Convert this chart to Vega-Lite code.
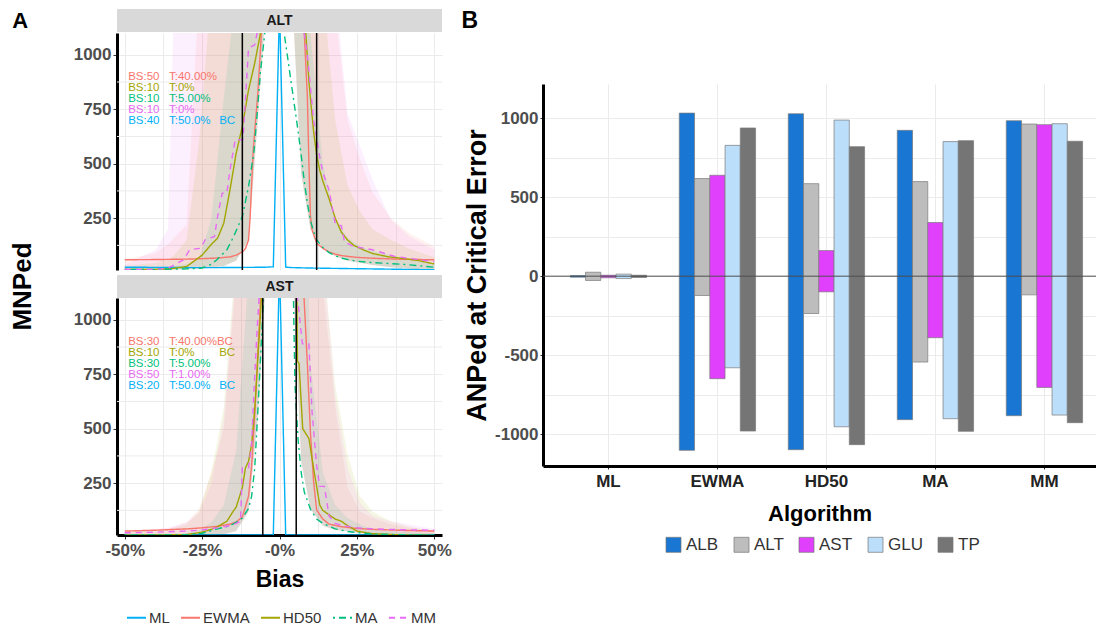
{
"$schema": "https://vega.github.io/schema/vega-lite/v6.json",
"background": "white",
"padding": {"left": 10, "top": 9, "right": 0, "bottom": 0},
"config": {
 "font": "Liberation Sans",
 "view": {"stroke": null},
 "axis": {"labelFont": "Liberation Sans", "titleFont": "Liberation Sans", "labelFontWeight": "bold", "labelColor": "#4D4D4D", "labelFontSize": 17, "titleFontWeight": "bold", "titleColor": "black", "gridColor": "#EBEBEB", "gridWidth": 1, "tickColor": "#333333", "tickSize": 4, "domainColor": "black", "domainWidth": 3, "labelPadding": 2, "labelOverlap": false},
 "legend": {"labelFont": "Liberation Sans", "labelFontWeight": "normal", "labelColor": "#333333"},
 "title": {"font": "Liberation Sans", "color": "black"},
 "text": {"font": "Liberation Sans"}
},
"datasets": {
 "strips": [{"p": "ALT"}, {"p": "AST"}, {"p": "B"}],
 "ygrid": [{"g": 125}, {"g": 375}, {"g": 625}, {"g": 875}],
 "cuts": [{"p": "ALT", "c": -12}, {"p": "ALT", "c": 12}, {"p": "AST", "c": -5.4}, {"p": "AST", "c": 5.4}],
 "ann": [
  {"p": "ALT", "a": "EWMA", "bs": "BS:50", "t": "T:40.00%", "bc": ""},
  {"p": "ALT", "a": "HD50", "bs": "BS:10", "t": "T:0%", "bc": ""},
  {"p": "ALT", "a": "MA", "bs": "BS:10", "t": "T:5.00%", "bc": ""},
  {"p": "ALT", "a": "MM", "bs": "BS:10", "t": "T:0%", "bc": ""},
  {"p": "ALT", "a": "ML", "bs": "BS:40", "t": "T:50.0%", "bc": "BC"},
  {"p": "AST", "a": "EWMA", "bs": "BS:30", "t": "T:40.00%BC", "bc": ""},
  {"p": "AST", "a": "HD50", "bs": "BS:10", "t": "T:0%", "bc": "BC"},
  {"p": "AST", "a": "MA", "bs": "BS:30", "t": "T:5.00%", "bc": ""},
  {"p": "AST", "a": "MM", "bs": "BS:50", "t": "T:1.00%", "bc": ""},
  {"p": "AST", "a": "ML", "bs": "BS:20", "t": "T:50.0%", "bc": "BC"}
 ],
 "bars": [
  {"alg": "ML", "an": "ALB", "lo": -6, "hi": 4}, {"alg": "ML", "an": "ALT", "lo": -27, "hi": 25}, {"alg": "ML", "an": "AST", "lo": -10, "hi": 6}, {"alg": "ML", "an": "GLU", "lo": -15, "hi": 13}, {"alg": "ML", "an": "TP", "lo": -8, "hi": 6},
  {"alg": "EWMA", "an": "ALB", "lo": -1101, "hi": 1031}, {"alg": "EWMA", "an": "ALT", "lo": -122, "hi": 617}, {"alg": "EWMA", "an": "AST", "lo": -648, "hi": 638}, {"alg": "EWMA", "an": "GLU", "lo": -579, "hi": 827}, {"alg": "EWMA", "an": "TP", "lo": -979, "hi": 937},
  {"alg": "HD50", "an": "ALB", "lo": -1097, "hi": 1027}, {"alg": "HD50", "an": "ALT", "lo": -236, "hi": 585}, {"alg": "HD50", "an": "AST", "lo": -99, "hi": 162}, {"alg": "HD50", "an": "GLU", "lo": -952, "hi": 987}, {"alg": "HD50", "an": "TP", "lo": -1065, "hi": 819},
  {"alg": "MA", "an": "ALB", "lo": -907, "hi": 922}, {"alg": "MA", "an": "ALT", "lo": -543, "hi": 598}, {"alg": "MA", "an": "AST", "lo": -389, "hi": 339}, {"alg": "MA", "an": "GLU", "lo": -901, "hi": 851}, {"alg": "MA", "an": "TP", "lo": -981, "hi": 857},
  {"alg": "MM", "an": "ALB", "lo": -882, "hi": 983}, {"alg": "MM", "an": "ALT", "lo": -118, "hi": 962}, {"alg": "MM", "an": "AST", "lo": -703, "hi": 958}, {"alg": "MM", "an": "GLU", "lo": -878, "hi": 964}, {"alg": "MM", "an": "TP", "lo": -926, "hi": 853}
 ],
 "lines": [
  {"p":"ALT","a":"ML","b":-50,"v":25},{"p":"ALT","a":"ML","b":-40,"v":24},{"p":"ALT","a":"ML","b":-30,"v":23},{"p":"ALT","a":"ML","b":-20,"v":23},{"p":"ALT","a":"ML","b":-10,"v":24},{"p":"ALT","a":"ML","b":-4,"v":25},{"p":"ALT","a":"ML","b":-2,"v":27},{"p":"ALT","a":"ML","b":0,"v":1220},{"p":"ALT","a":"ML","b":2,"v":25},{"p":"ALT","a":"ML","b":4,"v":23},{"p":"ALT","a":"ML","b":10,"v":21},{"p":"ALT","a":"ML","b":20,"v":19},{"p":"ALT","a":"ML","b":30,"v":17},{"p":"ALT","a":"ML","b":40,"v":15},{"p":"ALT","a":"ML","b":50,"v":13},
  {"p":"ALT","a":"EWMA","b":-50,"v":59},{"p":"ALT","a":"EWMA","b":-40,"v":60},{"p":"ALT","a":"EWMA","b":-30,"v":62},{"p":"ALT","a":"EWMA","b":-25,"v":64},{"p":"ALT","a":"EWMA","b":-20,"v":67},{"p":"ALT","a":"EWMA","b":-16,"v":72},{"p":"ALT","a":"EWMA","b":-14,"v":80},{"p":"ALT","a":"EWMA","b":-12,"v":95},{"p":"ALT","a":"EWMA","b":-11,"v":110},{"p":"ALT","a":"EWMA","b":-10,"v":150},{"p":"ALT","a":"EWMA","b":-9.5,"v":250},{"p":"ALT","a":"EWMA","b":-8.5,"v":560},{"p":"ALT","a":"EWMA","b":-7,"v":825},{"p":"ALT","a":"EWMA","b":-6,"v":1060},{"p":"ALT","a":"EWMA","b":-4,"v":2000},{"p":"ALT","a":"EWMA","b":4,"v":2000},{"p":"ALT","a":"EWMA","b":7.5,"v":1300},{"p":"ALT","a":"EWMA","b":8,"v":1100},{"p":"ALT","a":"EWMA","b":9,"v":809},{"p":"ALT","a":"EWMA","b":9.5,"v":503},{"p":"ALT","a":"EWMA","b":10,"v":258},{"p":"ALT","a":"EWMA","b":10.5,"v":197},{"p":"ALT","a":"EWMA","b":12,"v":135},{"p":"ALT","a":"EWMA","b":14,"v":112},{"p":"ALT","a":"EWMA","b":16,"v":95},{"p":"ALT","a":"EWMA","b":18,"v":85},{"p":"ALT","a":"EWMA","b":20,"v":78},{"p":"ALT","a":"EWMA","b":25,"v":70},{"p":"ALT","a":"EWMA","b":30,"v":66},{"p":"ALT","a":"EWMA","b":40,"v":61},{"p":"ALT","a":"EWMA","b":50,"v":59},
  {"p":"ALT","a":"HD50","b":-50,"v":15},{"p":"ALT","a":"HD50","b":-40,"v":15},{"p":"ALT","a":"HD50","b":-35,"v":18},{"p":"ALT","a":"HD50","b":-30,"v":28},{"p":"ALT","a":"HD50","b":-25,"v":80},{"p":"ALT","a":"HD50","b":-22,"v":130},{"p":"ALT","a":"HD50","b":-20,"v":158},{"p":"ALT","a":"HD50","b":-18,"v":227},{"p":"ALT","a":"HD50","b":-16,"v":380},{"p":"ALT","a":"HD50","b":-14,"v":548},{"p":"ALT","a":"HD50","b":-12,"v":671},{"p":"ALT","a":"HD50","b":-10,"v":839},{"p":"ALT","a":"HD50","b":-8,"v":962},{"p":"ALT","a":"HD50","b":-6,"v":1110},{"p":"ALT","a":"HD50","b":-4,"v":2000},{"p":"ALT","a":"HD50","b":6,"v":2000},{"p":"ALT","a":"HD50","b":8.5,"v":1100},{"p":"ALT","a":"HD50","b":9.5,"v":880},{"p":"ALT","a":"HD50","b":10,"v":800},{"p":"ALT","a":"HD50","b":11,"v":650},{"p":"ALT","a":"HD50","b":12,"v":540},{"p":"ALT","a":"HD50","b":13,"v":470},{"p":"ALT","a":"HD50","b":14,"v":420},{"p":"ALT","a":"HD50","b":16,"v":340},{"p":"ALT","a":"HD50","b":18,"v":250},{"p":"ALT","a":"HD50","b":20,"v":185},{"p":"ALT","a":"HD50","b":22,"v":150},{"p":"ALT","a":"HD50","b":24,"v":125},{"p":"ALT","a":"HD50","b":27,"v":105},{"p":"ALT","a":"HD50","b":30,"v":88},{"p":"ALT","a":"HD50","b":35,"v":73},{"p":"ALT","a":"HD50","b":40,"v":65},{"p":"ALT","a":"HD50","b":45,"v":55},{"p":"ALT","a":"HD50","b":50,"v":40},
  {"p":"ALT","a":"MA","b":-50,"v":15},{"p":"ALT","a":"MA","b":-40,"v":15},{"p":"ALT","a":"MA","b":-30,"v":17},{"p":"ALT","a":"MA","b":-25.4,"v":20},{"p":"ALT","a":"MA","b":-22.4,"v":36},{"p":"ALT","a":"MA","b":-20.2,"v":59},{"p":"ALT","a":"MA","b":-17,"v":105},{"p":"ALT","a":"MA","b":-14.8,"v":166},{"p":"ALT","a":"MA","b":-12,"v":258},{"p":"ALT","a":"MA","b":-10,"v":395},{"p":"ALT","a":"MA","b":-8.3,"v":549},{"p":"ALT","a":"MA","b":-7.2,"v":732},{"p":"ALT","a":"MA","b":-6.2,"v":916},{"p":"ALT","a":"MA","b":-5.1,"v":1054},{"p":"ALT","a":"MA","b":-4,"v":1200},{"p":"ALT","a":"MA","b":0,"v":3000},{"p":"ALT","a":"MA","b":1.5,"v":1100},{"p":"ALT","a":"MA","b":3,"v":950},{"p":"ALT","a":"MA","b":4.5,"v":800},{"p":"ALT","a":"MA","b":6,"v":650},{"p":"ALT","a":"MA","b":7,"v":540},{"p":"ALT","a":"MA","b":8,"v":420},{"p":"ALT","a":"MA","b":9,"v":320},{"p":"ALT","a":"MA","b":10,"v":240},{"p":"ALT","a":"MA","b":11,"v":190},{"p":"ALT","a":"MA","b":12,"v":150},{"p":"ALT","a":"MA","b":14,"v":115},{"p":"ALT","a":"MA","b":16,"v":92},{"p":"ALT","a":"MA","b":18,"v":78},{"p":"ALT","a":"MA","b":20,"v":66},{"p":"ALT","a":"MA","b":25,"v":52},{"p":"ALT","a":"MA","b":30,"v":46},{"p":"ALT","a":"MA","b":40,"v":38},{"p":"ALT","a":"MA","b":50,"v":25},
  {"p":"ALT","a":"MM","b":-50,"v":15},{"p":"ALT","a":"MM","b":-40,"v":15},{"p":"ALT","a":"MM","b":-36,"v":20},{"p":"ALT","a":"MM","b":-31,"v":59},{"p":"ALT","a":"MM","b":-29,"v":105},{"p":"ALT","a":"MM","b":-25.5,"v":112},{"p":"ALT","a":"MM","b":-24,"v":151},{"p":"ALT","a":"MM","b":-21,"v":166},{"p":"ALT","a":"MM","b":-20,"v":258},{"p":"ALT","a":"MM","b":-18.5,"v":365},{"p":"ALT","a":"MM","b":-17,"v":365},{"p":"ALT","a":"MM","b":-16,"v":472},{"p":"ALT","a":"MM","b":-14.3,"v":610},{"p":"ALT","a":"MM","b":-11.8,"v":610},{"p":"ALT","a":"MM","b":-10,"v":1030},{"p":"ALT","a":"MM","b":-8,"v":1046},{"p":"ALT","a":"MM","b":-6.5,"v":1150},{"p":"ALT","a":"MM","b":-4,"v":2000},{"p":"ALT","a":"MM","b":6,"v":2000},{"p":"ALT","a":"MM","b":8,"v":1100},{"p":"ALT","a":"MM","b":9,"v":1000},{"p":"ALT","a":"MM","b":10,"v":850},{"p":"ALT","a":"MM","b":11,"v":700},{"p":"ALT","a":"MM","b":12,"v":620},{"p":"ALT","a":"MM","b":13,"v":530},{"p":"ALT","a":"MM","b":14,"v":460},{"p":"ALT","a":"MM","b":16,"v":380},{"p":"ALT","a":"MM","b":18,"v":225},{"p":"ALT","a":"MM","b":20,"v":215},{"p":"ALT","a":"MM","b":21,"v":140},{"p":"ALT","a":"MM","b":24,"v":120},{"p":"ALT","a":"MM","b":30,"v":105},{"p":"ALT","a":"MM","b":37,"v":75},{"p":"ALT","a":"MM","b":50,"v":50},
  {"p":"AST","a":"ML","b":-50,"v":14},{"p":"AST","a":"ML","b":-40,"v":13},{"p":"AST","a":"ML","b":-30,"v":13},{"p":"AST","a":"ML","b":-20,"v":12},{"p":"AST","a":"ML","b":-10,"v":12},{"p":"AST","a":"ML","b":-4,"v":12},{"p":"AST","a":"ML","b":-2,"v":12},{"p":"AST","a":"ML","b":0,"v":1250},{"p":"AST","a":"ML","b":2,"v":12},{"p":"AST","a":"ML","b":4,"v":12},{"p":"AST","a":"ML","b":10,"v":12},{"p":"AST","a":"ML","b":20,"v":12},{"p":"AST","a":"ML","b":30,"v":12},{"p":"AST","a":"ML","b":40,"v":12},{"p":"AST","a":"ML","b":50,"v":12},
  {"p":"AST","a":"EWMA","b":-50,"v":30},{"p":"AST","a":"EWMA","b":-40,"v":34},{"p":"AST","a":"EWMA","b":-30,"v":40},{"p":"AST","a":"EWMA","b":-25,"v":45},{"p":"AST","a":"EWMA","b":-20,"v":52},{"p":"AST","a":"EWMA","b":-16,"v":62},{"p":"AST","a":"EWMA","b":-14,"v":72},{"p":"AST","a":"EWMA","b":-12,"v":95},{"p":"AST","a":"EWMA","b":-10,"v":190},{"p":"AST","a":"EWMA","b":-9,"v":330},{"p":"AST","a":"EWMA","b":-8,"v":560},{"p":"AST","a":"EWMA","b":-7,"v":850},{"p":"AST","a":"EWMA","b":-6,"v":1120},{"p":"AST","a":"EWMA","b":-4,"v":2500},{"p":"AST","a":"EWMA","b":4,"v":2500},{"p":"AST","a":"EWMA","b":7,"v":1400},{"p":"AST","a":"EWMA","b":8,"v":1080},{"p":"AST","a":"EWMA","b":9,"v":800},{"p":"AST","a":"EWMA","b":10,"v":480},{"p":"AST","a":"EWMA","b":11,"v":260},{"p":"AST","a":"EWMA","b":12,"v":127},{"p":"AST","a":"EWMA","b":14,"v":85},{"p":"AST","a":"EWMA","b":16,"v":62},{"p":"AST","a":"EWMA","b":20,"v":50},{"p":"AST","a":"EWMA","b":25,"v":42},{"p":"AST","a":"EWMA","b":30,"v":38},{"p":"AST","a":"EWMA","b":40,"v":33},{"p":"AST","a":"EWMA","b":50,"v":30},
  {"p":"AST","a":"HD50","b":-50,"v":12},{"p":"AST","a":"HD50","b":-40,"v":12},{"p":"AST","a":"HD50","b":-30,"v":14},{"p":"AST","a":"HD50","b":-25,"v":25},{"p":"AST","a":"HD50","b":-22,"v":38},{"p":"AST","a":"HD50","b":-20,"v":50},{"p":"AST","a":"HD50","b":-17,"v":75},{"p":"AST","a":"HD50","b":-15,"v":120},{"p":"AST","a":"HD50","b":-14,"v":140},{"p":"AST","a":"HD50","b":-12,"v":230},{"p":"AST","a":"HD50","b":-11,"v":320},{"p":"AST","a":"HD50","b":-10,"v":350},{"p":"AST","a":"HD50","b":-9,"v":430},{"p":"AST","a":"HD50","b":-8,"v":590},{"p":"AST","a":"HD50","b":-7,"v":820},{"p":"AST","a":"HD50","b":-6,"v":1060},{"p":"AST","a":"HD50","b":-5,"v":1300},{"p":"AST","a":"HD50","b":4,"v":2500},{"p":"AST","a":"HD50","b":5.6,"v":1150},{"p":"AST","a":"HD50","b":5.8,"v":810},{"p":"AST","a":"HD50","b":6.3,"v":800},{"p":"AST","a":"HD50","b":7.5,"v":500},{"p":"AST","a":"HD50","b":9.5,"v":455},{"p":"AST","a":"HD50","b":11,"v":320},{"p":"AST","a":"HD50","b":13,"v":150},{"p":"AST","a":"HD50","b":14,"v":125},{"p":"AST","a":"HD50","b":16,"v":105},{"p":"AST","a":"HD50","b":18,"v":85},{"p":"AST","a":"HD50","b":20,"v":75},{"p":"AST","a":"HD50","b":22,"v":55},{"p":"AST","a":"HD50","b":25,"v":30},{"p":"AST","a":"HD50","b":30,"v":18},{"p":"AST","a":"HD50","b":40,"v":12},{"p":"AST","a":"HD50","b":50,"v":10},
  {"p":"AST","a":"MA","b":-50,"v":12},{"p":"AST","a":"MA","b":-40,"v":12},{"p":"AST","a":"MA","b":-30,"v":13},{"p":"AST","a":"MA","b":-25,"v":20},{"p":"AST","a":"MA","b":-20,"v":40},{"p":"AST","a":"MA","b":-16,"v":55},{"p":"AST","a":"MA","b":-14,"v":70},{"p":"AST","a":"MA","b":-12,"v":90},{"p":"AST","a":"MA","b":-10,"v":134},{"p":"AST","a":"MA","b":-9,"v":190},{"p":"AST","a":"MA","b":-8,"v":320},{"p":"AST","a":"MA","b":-7,"v":580},{"p":"AST","a":"MA","b":-6,"v":860},{"p":"AST","a":"MA","b":-5,"v":1150},{"p":"AST","a":"MA","b":-4,"v":2500},{"p":"AST","a":"MA","b":4,"v":1500},{"p":"AST","a":"MA","b":5,"v":700},{"p":"AST","a":"MA","b":6,"v":450},{"p":"AST","a":"MA","b":7,"v":300},{"p":"AST","a":"MA","b":8,"v":210},{"p":"AST","a":"MA","b":10,"v":130},{"p":"AST","a":"MA","b":12,"v":85},{"p":"AST","a":"MA","b":14,"v":65},{"p":"AST","a":"MA","b":18,"v":40},{"p":"AST","a":"MA","b":22,"v":28},{"p":"AST","a":"MA","b":26,"v":22},{"p":"AST","a":"MA","b":30,"v":16},{"p":"AST","a":"MA","b":40,"v":13},{"p":"AST","a":"MA","b":50,"v":12},
  {"p":"AST","a":"MM","b":-50,"v":22},{"p":"AST","a":"MM","b":-40,"v":25},{"p":"AST","a":"MM","b":-30,"v":30},{"p":"AST","a":"MM","b":-25,"v":35},{"p":"AST","a":"MM","b":-20,"v":45},{"p":"AST","a":"MM","b":-16,"v":55},{"p":"AST","a":"MM","b":-14,"v":65},{"p":"AST","a":"MM","b":-12.6,"v":75},{"p":"AST","a":"MM","b":-12,"v":320},{"p":"AST","a":"MM","b":-10,"v":320},{"p":"AST","a":"MM","b":-9,"v":430},{"p":"AST","a":"MM","b":-8.3,"v":659},{"p":"AST","a":"MM","b":-7.2,"v":967},{"p":"AST","a":"MM","b":-6.5,"v":1120},{"p":"AST","a":"MM","b":-4,"v":2500},{"p":"AST","a":"MM","b":4,"v":2500},{"p":"AST","a":"MM","b":5.8,"v":1100},{"p":"AST","a":"MM","b":7.4,"v":890},{"p":"AST","a":"MM","b":9.5,"v":890},{"p":"AST","a":"MM","b":10.5,"v":580},{"p":"AST","a":"MM","b":12,"v":330},{"p":"AST","a":"MM","b":13,"v":235},{"p":"AST","a":"MM","b":14.5,"v":235},{"p":"AST","a":"MM","b":16,"v":100},{"p":"AST","a":"MM","b":18,"v":65},{"p":"AST","a":"MM","b":20,"v":57},{"p":"AST","a":"MM","b":25,"v":45},{"p":"AST","a":"MM","b":30,"v":40},{"p":"AST","a":"MM","b":40,"v":36},{"p":"AST","a":"MM","b":50,"v":34}
 ],
 "bands": [
  {"p":"ALT","a":"MM","b":-50,"lo":12,"hi":35},{"p":"ALT","a":"MM","b":-40,"lo":12,"hi":105},{"p":"ALT","a":"MM","b":-36,"lo":13,"hi":200},{"p":"ALT","a":"MM","b":-34,"lo":14,"hi":1300},{"p":"ALT","a":"MM","b":-30,"lo":15,"hi":2500},{"p":"ALT","a":"MM","b":-26,"lo":18,"hi":2500},{"p":"ALT","a":"MM","b":-22,"lo":22,"hi":2500},{"p":"ALT","a":"MM","b":-18,"lo":30,"hi":2500},{"p":"ALT","a":"MM","b":-14,"lo":55,"hi":2500},{"p":"ALT","a":"MM","b":-10,"lo":150,"hi":2500},{"p":"ALT","a":"MM","b":-7,"lo":700,"hi":2500},{"p":"ALT","a":"MM","b":-4,"lo":1300,"hi":2500},{"p":"ALT","a":"MM","b":4,"lo":1300,"hi":2500},{"p":"ALT","a":"MM","b":7,"lo":450,"hi":2500},{"p":"ALT","a":"MM","b":10,"lo":200,"hi":2500},{"p":"ALT","a":"MM","b":14,"lo":110,"hi":2500},{"p":"ALT","a":"MM","b":18,"lo":75,"hi":1300},{"p":"ALT","a":"MM","b":22,"lo":55,"hi":732},{"p":"ALT","a":"MM","b":26,"lo":45,"hi":580},{"p":"ALT","a":"MM","b":30,"lo":35,"hi":430},{"p":"ALT","a":"MM","b":36,"lo":25,"hi":242},{"p":"ALT","a":"MM","b":42,"lo":18,"hi":166},{"p":"ALT","a":"MM","b":50,"lo":12,"hi":105},
  {"p":"ALT","a":"EWMA","b":-50,"lo":12,"hi":60},{"p":"ALT","a":"EWMA","b":-40,"lo":12,"hi":90},{"p":"ALT","a":"EWMA","b":-36,"lo":13,"hi":130},{"p":"ALT","a":"EWMA","b":-34,"lo":14,"hi":160},{"p":"ALT","a":"EWMA","b":-30,"lo":15,"hi":220},{"p":"ALT","a":"EWMA","b":-26,"lo":18,"hi":1300},{"p":"ALT","a":"EWMA","b":-22,"lo":22,"hi":2500},{"p":"ALT","a":"EWMA","b":-18,"lo":30,"hi":2500},{"p":"ALT","a":"EWMA","b":-14,"lo":55,"hi":2500},{"p":"ALT","a":"EWMA","b":-10,"lo":150,"hi":2500},{"p":"ALT","a":"EWMA","b":-7,"lo":700,"hi":2500},{"p":"ALT","a":"EWMA","b":-4,"lo":1300,"hi":2500},{"p":"ALT","a":"EWMA","b":4,"lo":1300,"hi":2500},{"p":"ALT","a":"EWMA","b":7,"lo":450,"hi":2500},{"p":"ALT","a":"EWMA","b":10,"lo":200,"hi":2500},{"p":"ALT","a":"EWMA","b":14,"lo":110,"hi":2500},{"p":"ALT","a":"EWMA","b":18,"lo":75,"hi":1200},{"p":"ALT","a":"EWMA","b":22,"lo":55,"hi":700},{"p":"ALT","a":"EWMA","b":26,"lo":45,"hi":520},{"p":"ALT","a":"EWMA","b":30,"lo":35,"hi":370},{"p":"ALT","a":"EWMA","b":36,"lo":25,"hi":250},{"p":"ALT","a":"EWMA","b":42,"lo":18,"hi":180},{"p":"ALT","a":"EWMA","b":50,"lo":12,"hi":120},
  {"p":"ALT","a":"HD50","b":-50,"lo":12,"hi":30},{"p":"ALT","a":"HD50","b":-40,"lo":12,"hi":45},{"p":"ALT","a":"HD50","b":-36,"lo":13,"hi":60},{"p":"ALT","a":"HD50","b":-34,"lo":14,"hi":80},{"p":"ALT","a":"HD50","b":-30,"lo":15,"hi":150},{"p":"ALT","a":"HD50","b":-26,"lo":18,"hi":600},{"p":"ALT","a":"HD50","b":-22,"lo":22,"hi":1300},{"p":"ALT","a":"HD50","b":-18,"lo":30,"hi":2500},{"p":"ALT","a":"HD50","b":-14,"lo":55,"hi":2500},{"p":"ALT","a":"HD50","b":-10,"lo":150,"hi":2500},{"p":"ALT","a":"HD50","b":-7,"lo":700,"hi":2500},{"p":"ALT","a":"HD50","b":-4,"lo":1300,"hi":2500},{"p":"ALT","a":"HD50","b":4,"lo":1300,"hi":2500},{"p":"ALT","a":"HD50","b":7,"lo":450,"hi":2500},{"p":"ALT","a":"HD50","b":10,"lo":200,"hi":2500},{"p":"ALT","a":"HD50","b":14,"lo":110,"hi":1300},{"p":"ALT","a":"HD50","b":18,"lo":75,"hi":700},{"p":"ALT","a":"HD50","b":22,"lo":55,"hi":400},{"p":"ALT","a":"HD50","b":26,"lo":45,"hi":280},{"p":"ALT","a":"HD50","b":30,"lo":35,"hi":200},{"p":"ALT","a":"HD50","b":36,"lo":25,"hi":150},{"p":"ALT","a":"HD50","b":42,"lo":18,"hi":110},{"p":"ALT","a":"HD50","b":50,"lo":12,"hi":70},
  {"p":"ALT","a":"MA","b":-50,"lo":12,"hi":20},{"p":"ALT","a":"MA","b":-40,"lo":12,"hi":25},{"p":"ALT","a":"MA","b":-36,"lo":13,"hi":28},{"p":"ALT","a":"MA","b":-34,"lo":14,"hi":30},{"p":"ALT","a":"MA","b":-30,"lo":15,"hi":40},{"p":"ALT","a":"MA","b":-26,"lo":18,"hi":60},{"p":"ALT","a":"MA","b":-22,"lo":22,"hi":250},{"p":"ALT","a":"MA","b":-18,"lo":30,"hi":800},{"p":"ALT","a":"MA","b":-14,"lo":55,"hi":1300},{"p":"ALT","a":"MA","b":-10,"lo":150,"hi":2500},{"p":"ALT","a":"MA","b":-7,"lo":700,"hi":2500},{"p":"ALT","a":"MA","b":-4,"lo":1300,"hi":2500},{"p":"ALT","a":"MA","b":4,"lo":1300,"hi":2500},{"p":"ALT","a":"MA","b":7,"lo":450,"hi":2500},{"p":"ALT","a":"MA","b":10,"lo":200,"hi":1100},{"p":"ALT","a":"MA","b":14,"lo":110,"hi":500},{"p":"ALT","a":"MA","b":18,"lo":75,"hi":250},{"p":"ALT","a":"MA","b":22,"lo":55,"hi":160},{"p":"ALT","a":"MA","b":26,"lo":45,"hi":120},{"p":"ALT","a":"MA","b":30,"lo":35,"hi":100},{"p":"ALT","a":"MA","b":36,"lo":25,"hi":80},{"p":"ALT","a":"MA","b":42,"lo":18,"hi":60},{"p":"ALT","a":"MA","b":50,"lo":12,"hi":40},
  {"p":"AST","a":"EWMA","b":-50,"lo":8,"hi":30},{"p":"AST","a":"EWMA","b":-40,"lo":8,"hi":38},{"p":"AST","a":"EWMA","b":-36,"lo":9,"hi":42},{"p":"AST","a":"EWMA","b":-34,"lo":9,"hi":50},{"p":"AST","a":"EWMA","b":-30,"lo":10,"hi":70},{"p":"AST","a":"EWMA","b":-26,"lo":11,"hi":130},{"p":"AST","a":"EWMA","b":-22,"lo":12,"hi":300},{"p":"AST","a":"EWMA","b":-18,"lo":16,"hi":500},{"p":"AST","a":"EWMA","b":-14,"lo":30,"hi":1200},{"p":"AST","a":"EWMA","b":-10,"lo":120,"hi":2500},{"p":"AST","a":"EWMA","b":-7,"lo":550,"hi":2500},{"p":"AST","a":"EWMA","b":-4,"lo":1300,"hi":2500},{"p":"AST","a":"EWMA","b":4,"lo":1300,"hi":2500},{"p":"AST","a":"EWMA","b":7,"lo":350,"hi":2500},{"p":"AST","a":"EWMA","b":10,"lo":130,"hi":2500},{"p":"AST","a":"EWMA","b":14,"lo":55,"hi":1150},{"p":"AST","a":"EWMA","b":18,"lo":35,"hi":600},{"p":"AST","a":"EWMA","b":22,"lo":30,"hi":230},{"p":"AST","a":"EWMA","b":26,"lo":20,"hi":120},{"p":"AST","a":"EWMA","b":30,"lo":15,"hi":90},{"p":"AST","a":"EWMA","b":36,"lo":10,"hi":62},{"p":"AST","a":"EWMA","b":42,"lo":9,"hi":45},{"p":"AST","a":"EWMA","b":50,"lo":8,"hi":35},
  {"p":"AST","a":"HD50","b":-50,"lo":8,"hi":25},{"p":"AST","a":"HD50","b":-40,"lo":8,"hi":35},{"p":"AST","a":"HD50","b":-36,"lo":9,"hi":40},{"p":"AST","a":"HD50","b":-34,"lo":9,"hi":45},{"p":"AST","a":"HD50","b":-30,"lo":10,"hi":60},{"p":"AST","a":"HD50","b":-26,"lo":11,"hi":120},{"p":"AST","a":"HD50","b":-22,"lo":12,"hi":300},{"p":"AST","a":"HD50","b":-18,"lo":16,"hi":600},{"p":"AST","a":"HD50","b":-14,"lo":30,"hi":1300},{"p":"AST","a":"HD50","b":-10,"lo":120,"hi":2500},{"p":"AST","a":"HD50","b":-7,"lo":550,"hi":2500},{"p":"AST","a":"HD50","b":-4,"lo":1300,"hi":2500},{"p":"AST","a":"HD50","b":4,"lo":1300,"hi":2500},{"p":"AST","a":"HD50","b":7,"lo":350,"hi":2500},{"p":"AST","a":"HD50","b":10,"lo":130,"hi":2500},{"p":"AST","a":"HD50","b":14,"lo":55,"hi":1300},{"p":"AST","a":"HD50","b":18,"lo":35,"hi":700},{"p":"AST","a":"HD50","b":22,"lo":30,"hi":380},{"p":"AST","a":"HD50","b":26,"lo":20,"hi":190},{"p":"AST","a":"HD50","b":30,"lo":15,"hi":120},{"p":"AST","a":"HD50","b":36,"lo":10,"hi":75},{"p":"AST","a":"HD50","b":42,"lo":9,"hi":50},{"p":"AST","a":"HD50","b":50,"lo":8,"hi":30},
  {"p":"AST","a":"MA","b":-50,"lo":8,"hi":12},{"p":"AST","a":"MA","b":-40,"lo":8,"hi":13},{"p":"AST","a":"MA","b":-36,"lo":9,"hi":14},{"p":"AST","a":"MA","b":-34,"lo":9,"hi":15},{"p":"AST","a":"MA","b":-30,"lo":10,"hi":20},{"p":"AST","a":"MA","b":-26,"lo":11,"hi":35},{"p":"AST","a":"MA","b":-22,"lo":12,"hi":70},{"p":"AST","a":"MA","b":-18,"lo":16,"hi":150},{"p":"AST","a":"MA","b":-14,"lo":30,"hi":400},{"p":"AST","a":"MA","b":-10,"lo":120,"hi":1200},{"p":"AST","a":"MA","b":-7,"lo":550,"hi":2500},{"p":"AST","a":"MA","b":-4,"lo":1300,"hi":2500},{"p":"AST","a":"MA","b":4,"lo":1300,"hi":2500},{"p":"AST","a":"MA","b":7,"lo":350,"hi":2500},{"p":"AST","a":"MA","b":10,"lo":130,"hi":800},{"p":"AST","a":"MA","b":14,"lo":55,"hi":300},{"p":"AST","a":"MA","b":18,"lo":35,"hi":150},{"p":"AST","a":"MA","b":22,"lo":30,"hi":90},{"p":"AST","a":"MA","b":26,"lo":20,"hi":60},{"p":"AST","a":"MA","b":30,"lo":15,"hi":40},{"p":"AST","a":"MA","b":36,"lo":10,"hi":30},{"p":"AST","a":"MA","b":42,"lo":9,"hi":25},{"p":"AST","a":"MA","b":50,"lo":8,"hi":20},
  {"p":"AST","a":"MM","b":-50,"lo":8,"hi":25},{"p":"AST","a":"MM","b":-40,"lo":8,"hi":40},{"p":"AST","a":"MM","b":-36,"lo":9,"hi":45},{"p":"AST","a":"MM","b":-34,"lo":9,"hi":55},{"p":"AST","a":"MM","b":-30,"lo":10,"hi":70},{"p":"AST","a":"MM","b":-26,"lo":11,"hi":110},{"p":"AST","a":"MM","b":-22,"lo":12,"hi":250},{"p":"AST","a":"MM","b":-18,"lo":16,"hi":550},{"p":"AST","a":"MM","b":-14,"lo":30,"hi":1250},{"p":"AST","a":"MM","b":-10,"lo":120,"hi":2500},{"p":"AST","a":"MM","b":-7,"lo":550,"hi":2500},{"p":"AST","a":"MM","b":-4,"lo":1300,"hi":2500},{"p":"AST","a":"MM","b":4,"lo":1300,"hi":2500},{"p":"AST","a":"MM","b":7,"lo":350,"hi":2500},{"p":"AST","a":"MM","b":10,"lo":130,"hi":2500},{"p":"AST","a":"MM","b":14,"lo":55,"hi":1300},{"p":"AST","a":"MM","b":18,"lo":35,"hi":650},{"p":"AST","a":"MM","b":22,"lo":30,"hi":320},{"p":"AST","a":"MM","b":26,"lo":20,"hi":160},{"p":"AST","a":"MM","b":30,"lo":15,"hi":100},{"p":"AST","a":"MM","b":36,"lo":10,"hi":75},{"p":"AST","a":"MM","b":42,"lo":9,"hi":60},{"p":"AST","a":"MM","b":50,"lo":8,"hi":40}
 ]
},
"hconcat": [
 {
  "spacing": -29,
  "vconcat": [
   {
    "spacing": 0,
    "vconcat": [
     {
      "width": 325, "height": 23,
      "data": {"name": "strips"},
      "transform": [{"filter": "datum.p == 'ALT'"}],
      "title": {"text": "A", "orient": "left", "anchor": "middle", "angle": 0, "align": "right", "baseline": "middle", "offset": 73, "fontSize": 22, "fontWeight": "bold"},
      "layer": [
       {"mark": {"type": "rect", "color": "#D9D9D9"}, "encoding": {}},
       {"mark": {"type": "text", "fontSize": 14, "fontWeight": "bold", "color": "#1A1A1A"}, "encoding": {"text": {"field": "p"}}}
      ]
     },
     {
      "width": 325, "height": 237,
      "layer": [
       {
        "data": {"name": "ygrid"},
        "mark": {"type": "rule", "color": "#EBEBEB", "strokeWidth": 1},
        "encoding": {"y": {"field": "g", "type": "quantitative", "scale": {"domain": [12, 1100], "nice": false, "zero": false}, "axis": {"title": null, "values": [250, 500, 750, 1000], "format": "d", "grid": true}}}
       },
       {
        "data": {"name": "bands"},
        "transform": [{"filter": "datum.p == 'ALT'"}],
        "mark": {"type": "area", "opacity": 0.1, "clip": true},
        "encoding": {
         "x": {"field": "b", "type": "quantitative", "scale": {"domain": [-52.5, 52.5], "nice": false, "zero": false}, "axis": {"values": [-50, -37.5, -25, -12.5, 0, 12.5, 25, 37.5, 50], "labels": false, "ticks": false, "domain": false, "title": null, "grid": true}},
         "y": {"field": "lo", "type": "quantitative"},
         "y2": {"field": "hi"},
         "fill": {"field": "a", "type": "nominal", "scale": {"domain": ["EWMA", "HD50", "MA", "ML", "MM"], "range": ["#F8766D", "#A3A500", "#00BF7D", "#00B0F6", "#E76BF3"]}, "legend": null}
        }
       },
       {
        "data": {"name": "lines"},
        "transform": [{"filter": "datum.p == 'ALT'"}],
        "mark": {"type": "line", "strokeWidth": 1.4, "clip": true},
        "encoding": {
         "x": {"field": "b", "type": "quantitative"},
         "y": {"field": "v", "type": "quantitative"},
         "stroke": {"field": "a", "type": "nominal", "scale": {"domain": ["ML", "EWMA", "HD50", "MA", "MM"], "range": ["#00B0F6", "#F8766D", "#A3A500", "#00BF7D", "#E76BF3"]}, "legend": {"title": null, "orient": "bottom", "direction": "horizontal", "symbolType": "stroke", "symbolStrokeWidth": 2, "symbolSize": 360, "labelFontSize": 15, "labelOffset": 2, "columnPadding": 7, "padding": 9, "offset": 7}},
         "strokeDash": {"field": "a", "type": "nominal", "scale": {"domain": ["ML", "EWMA", "HD50", "MA", "MM"], "range": [[1, 0], [1, 0], [1, 0], [2, 4, 7, 4], [6, 5]]}, "legend": {"title": null, "orient": "bottom", "direction": "horizontal", "symbolType": "stroke", "symbolStrokeWidth": 2, "symbolSize": 360, "labelFontSize": 15, "labelOffset": 2, "columnPadding": 7, "padding": 9, "offset": 7}}
        }
       },
       {
        "data": {"name": "cuts"},
        "transform": [{"filter": "datum.p == 'ALT'"}],
        "mark": {"type": "rule", "color": "black", "strokeWidth": 1.5},
        "encoding": {"x": {"field": "c", "type": "quantitative"}}
       },
       {
        "data": {"name": "ann"},
        "transform": [{"filter": "datum.p == 'ALT'"}],
        "mark": {"type": "text", "align": "left", "baseline": "middle", "fontSize": 11.5},
        "encoding": {"x": {"datum": -48.9}, "y": {"datum": 1100}, "yOffset": {"field": "a", "type": "nominal", "scale": {"type": "point", "domain": ["EWMA", "HD50", "MA", "MM", "ML"], "range": [44, 88], "padding": 0}}, "fill": {"field": "a", "type": "nominal", "legend": null}, "text": {"field": "bs"}}
       },
       {
        "data": {"name": "ann"},
        "transform": [{"filter": "datum.p == 'ALT'"}],
        "mark": {"type": "text", "align": "left", "baseline": "middle", "fontSize": 11.5},
        "encoding": {"x": {"datum": -35.7}, "y": {"datum": 1100}, "yOffset": {"field": "a", "type": "nominal", "scale": {"type": "point", "domain": ["EWMA", "HD50", "MA", "MM", "ML"], "range": [44, 88], "padding": 0}}, "fill": {"field": "a", "type": "nominal", "legend": null}, "text": {"field": "t"}}
       },
       {
        "data": {"name": "ann"},
        "transform": [{"filter": "datum.p == 'ALT'"}],
        "mark": {"type": "text", "align": "left", "baseline": "middle", "fontSize": 11.5},
        "encoding": {"x": {"datum": -19.5}, "y": {"datum": 1100}, "yOffset": {"field": "a", "type": "nominal", "scale": {"type": "point", "domain": ["EWMA", "HD50", "MA", "MM", "ML"], "range": [44, 88], "padding": 0}}, "fill": {"field": "a", "type": "nominal", "legend": null}, "text": {"field": "bc"}}
       }
      ]
     }
    ]
   },
   {
    "spacing": 0,
    "bounds": "flush",
    "vconcat": [
     {
      "width": 325, "height": 23,
      "data": {"name": "strips"},
      "transform": [{"filter": "datum.p == 'AST'"}],
      "title": {"text": "MNPed", "orient": "left", "anchor": "middle", "baseline": "alphabetic", "offset": 60, "fontSize": 26, "fontWeight": "bold"},
      "layer": [
       {"mark": {"type": "rect", "color": "#D9D9D9"}, "encoding": {}},
       {"mark": {"type": "text", "fontSize": 14, "fontWeight": "bold", "color": "#1A1A1A"}, "encoding": {"text": {"field": "p"}}}
      ]
     },
     {
      "width": 325, "height": 237,
      "layer": [
       {
        "data": {"name": "ygrid"},
        "mark": {"type": "rule", "color": "#EBEBEB", "strokeWidth": 1},
        "encoding": {"y": {"field": "g", "type": "quantitative", "scale": {"domain": [12, 1100], "nice": false, "zero": false}, "axis": {"title": null, "values": [250, 500, 750, 1000], "format": "d", "grid": true}}}
       },
       {
        "data": {"name": "bands"},
        "transform": [{"filter": "datum.p == 'AST'"}],
        "mark": {"type": "area", "opacity": 0.1, "clip": true},
        "encoding": {
         "x": {"field": "b", "type": "quantitative", "scale": {"domain": [-52.5, 52.5], "nice": false, "zero": false}, "axis": {"values": [-50, -37.5, -25, -12.5, 0, 12.5, 25, 37.5, 50], "labelExpr": "datum.value % 25 != 0 ? '' : (datum.value == 0 ? '-0%' : toString(datum.value) + '%')", "tickOpacity": {"condition": {"test": "datum.value % 25 == 0", "value": 1}, "value": 0}, "title": "Bias", "titleFontSize": 23, "titlePadding": 10, "labelPadding": 3, "grid": true}},
         "y": {"field": "lo", "type": "quantitative"},
         "y2": {"field": "hi"},
         "fill": {"field": "a", "type": "nominal", "scale": {"domain": ["EWMA", "HD50", "MA", "ML", "MM"], "range": ["#F8766D", "#A3A500", "#00BF7D", "#00B0F6", "#E76BF3"]}, "legend": null}
        }
       },
       {
        "data": {"name": "lines"},
        "transform": [{"filter": "datum.p == 'AST'"}],
        "mark": {"type": "line", "strokeWidth": 1.4, "clip": true},
        "encoding": {
         "x": {"field": "b", "type": "quantitative"},
         "y": {"field": "v", "type": "quantitative"},
         "stroke": {"field": "a", "type": "nominal", "scale": {"domain": ["ML", "EWMA", "HD50", "MA", "MM"], "range": ["#00B0F6", "#F8766D", "#A3A500", "#00BF7D", "#E76BF3"]}, "legend": {"title": null, "orient": "bottom", "direction": "horizontal", "symbolType": "stroke", "symbolStrokeWidth": 2, "symbolSize": 360, "labelFontSize": 15, "labelOffset": 2, "columnPadding": 7, "padding": 9, "offset": 7}},
         "strokeDash": {"field": "a", "type": "nominal", "scale": {"domain": ["ML", "EWMA", "HD50", "MA", "MM"], "range": [[1, 0], [1, 0], [1, 0], [2, 4, 7, 4], [6, 5]]}, "legend": {"title": null, "orient": "bottom", "direction": "horizontal", "symbolType": "stroke", "symbolStrokeWidth": 2, "symbolSize": 360, "labelFontSize": 15, "labelOffset": 2, "columnPadding": 7, "padding": 9, "offset": 7}}
        }
       },
       {
        "data": {"name": "cuts"},
        "transform": [{"filter": "datum.p == 'AST'"}],
        "mark": {"type": "rule", "color": "black", "strokeWidth": 1.5},
        "encoding": {"x": {"field": "c", "type": "quantitative"}}
       },
       {
        "data": {"name": "ann"},
        "transform": [{"filter": "datum.p == 'AST'"}],
        "mark": {"type": "text", "align": "left", "baseline": "middle", "fontSize": 11.5},
        "encoding": {"x": {"datum": -48.9}, "y": {"datum": 1100}, "yOffset": {"field": "a", "type": "nominal", "scale": {"type": "point", "domain": ["EWMA", "HD50", "MA", "MM", "ML"], "range": [44, 88], "padding": 0}}, "fill": {"field": "a", "type": "nominal", "legend": null}, "text": {"field": "bs"}}
       },
       {
        "data": {"name": "ann"},
        "transform": [{"filter": "datum.p == 'AST'"}],
        "mark": {"type": "text", "align": "left", "baseline": "middle", "fontSize": 11.5},
        "encoding": {"x": {"datum": -35.7}, "y": {"datum": 1100}, "yOffset": {"field": "a", "type": "nominal", "scale": {"type": "point", "domain": ["EWMA", "HD50", "MA", "MM", "ML"], "range": [44, 88], "padding": 0}}, "fill": {"field": "a", "type": "nominal", "legend": null}, "text": {"field": "t"}}
       },
       {
        "data": {"name": "ann"},
        "transform": [{"filter": "datum.p == 'AST'"}],
        "mark": {"type": "text", "align": "left", "baseline": "middle", "fontSize": 11.5},
        "encoding": {"x": {"datum": -19.5}, "y": {"datum": 1100}, "yOffset": {"field": "a", "type": "nominal", "scale": {"type": "point", "domain": ["EWMA", "HD50", "MA", "MM", "ML"], "range": [44, 88], "padding": 0}}, "fill": {"field": "a", "type": "nominal", "legend": null}, "text": {"field": "bc"}}
       }
      ]
     }
    ]
   }
  ]
 },
 {
  "spacing": 51,
  "vconcat": [
   {
    "width": 553, "height": 23,
    "data": {"name": "strips"},
    "transform": [{"filter": "datum.p == 'B'"}],
    "mark": {"type": "text", "text": " "},
    "encoding": {},
    "title": {"text": "B", "orient": "left", "anchor": "middle", "angle": 0, "align": "left", "baseline": "middle", "offset": 65, "fontSize": 23, "fontWeight": "bold"}
   },
   {
    "width": 553, "height": 382,
    "layer": [
     {
      "data": {"name": "bars"},
      "mark": {"type": "bar", "stroke": "#7a7a7a", "strokeWidth": 0.7},
      "encoding": {
       "x": {"field": "alg", "type": "nominal", "sort": ["ML", "EWMA", "HD50", "MA", "MM"], "scale": {"domain": ["ML", "EWMA", "HD50", "MA", "MM"], "paddingInner": 0.3, "paddingOuter": 0.1867, "align": 0.67}, "axis": {"title": "Algorithm", "titleFontSize": 22, "titlePadding": 14, "labelAngle": 0, "grid": true, "bandPosition": 0.5, "tickSize": 3, "labelPadding": 4, "labelColor": "#222222"}},
       "xOffset": {"field": "an", "type": "nominal", "scale": {"domain": ["ALB", "ALT", "AST", "GLU", "TP"], "paddingInner": 0, "paddingOuter": 0}},
       "y": {"field": "lo", "type": "quantitative", "scale": {"domain": [-1200, 1215], "nice": false, "zero": false}, "axis": {"title": "ANPed at Critical Error", "titleFontSize": 27, "titlePadding": 3, "values": [-1000, -750, -500, -250, 0, 250, 500, 750, 1000], "labelExpr": "datum.value % 500 == 0 ? toString(datum.value) : ''", "tickOpacity": {"condition": {"test": "datum.value % 500 == 0", "value": 1}, "value": 0}, "tickSize": 3, "grid": true}},
       "y2": {"field": "hi"},
       "fill": {"field": "an", "type": "nominal", "scale": {"domain": ["ALB", "ALT", "AST", "GLU", "TP"], "range": ["#1976D2", "#BDBDBD", "#E040FB", "#BBDEFB", "#757575"]}, "legend": {"title": null, "orient": "none", "legendX": 122, "legendY": 527, "direction": "horizontal", "symbolType": "square", "symbolSize": 225, "symbolStrokeColor": "#777777", "symbolStrokeWidth": 0.7, "labelFontSize": 17, "labelOffset": 4, "columnPadding": 13}}
      }
     },
     {
      "data": {"values": [{"z": 0}]},
      "mark": {"type": "rule", "color": "#4D4D4D", "strokeWidth": 1},
      "encoding": {"y": {"field": "z", "type": "quantitative"}}
     }
    ]
   }
  ]
 }
],
"spacing": 9,
"resolve": {"scale": {"fill": "independent", "stroke": "independent", "strokeDash": "independent"}, "legend": {"fill": "independent", "stroke": "independent", "strokeDash": "independent"}}
}
